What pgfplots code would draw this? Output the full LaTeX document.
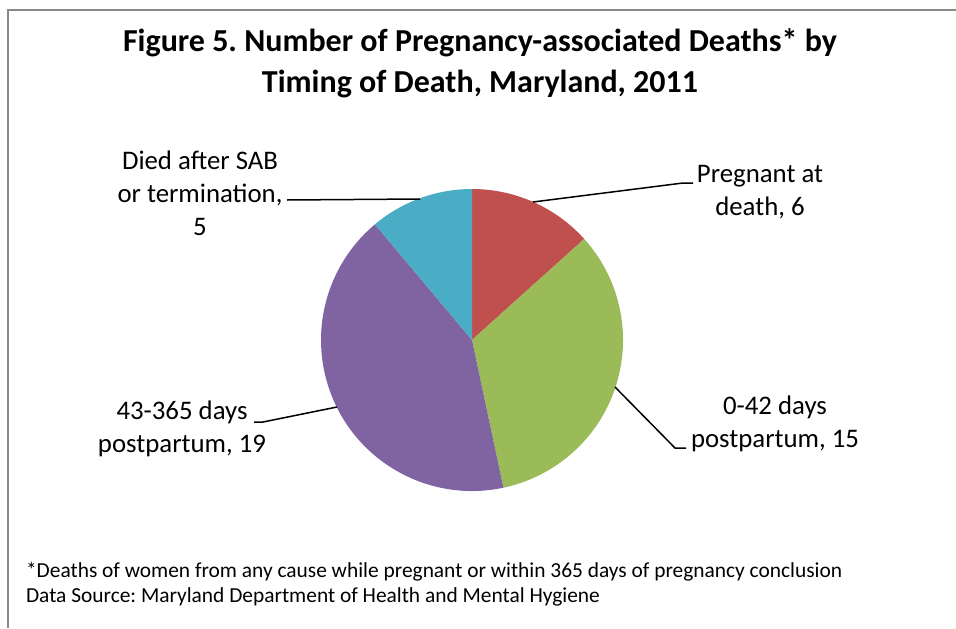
\documentclass[border=0pt]{standalone}
\usepackage{pgfplots}
\pgfplotsset{compat=1.18}
\usepackage{fontspec}
\setmainfont{Carlito}
\frenchspacing
\definecolor{cRed}{HTML}{C0504D}
\definecolor{cGreen}{HTML}{9BBB59}
\definecolor{cPurple}{HTML}{8064A2}
\definecolor{cBlue}{HTML}{4BACC6}
\definecolor{frameGray}{HTML}{898989}
% data: Pregnant at death, 0-42 days, 43-365 days, Died after SAB/termination
\def\vA{6}
\def\vB{15}
\def\vC{19}
\def\vD{5}
\begin{document}
\begin{tikzpicture}
\pgfmathsetmacro\tot{\vA+\vB+\vC+\vD}
\pgfmathsetmacro\aA{90}
\pgfmathsetmacro\aB{\aA-360*\vA/\tot}
\pgfmathsetmacro\aC{\aB-360*\vB/\tot}
\pgfmathsetmacro\aD{\aC-360*\vC/\tot}
\pgfmathsetmacro\aE{\aD-360*\vD/\tot}
\begin{axis}[
  x=0.5pt, y=0.5pt,
  xmin=0, xmax=956, ymin=0, ymax=628,
  hide axis, clip=false,
  anchor=origin, at={(0,0)},
]
% frame (cropped on right and bottom)
\draw[frameGray, line width=0.75pt] (axis cs:8,0) -- (axis cs:8,618) -- (axis cs:956,618);
% slices
\fill[cRed] (axis cs:472,288) -- (axis cs:{472+151*cos(\aA)},{288+151*sin(\aA)}) arc[start angle=\aA, end angle=\aB, radius=75.5pt] -- cycle;
\fill[cGreen] (axis cs:472,288) -- (axis cs:{472+151*cos(\aB)},{288+151*sin(\aB)}) arc[start angle=\aB, end angle=\aC, radius=75.5pt] -- cycle;
\fill[cPurple] (axis cs:472,288) -- (axis cs:{472+151*cos(\aC)},{288+151*sin(\aC)}) arc[start angle=\aC, end angle=\aD, radius=75.5pt] -- cycle;
\fill[cBlue] (axis cs:472,288) -- (axis cs:{472+151*cos(\aD)},{288+151*sin(\aD)}) arc[start angle=\aD, end angle=\aE, radius=75.5pt] -- cycle;
% leader lines
\draw[black, line width=0.75pt] (axis cs:533,426) -- (axis cs:683,445) -- (axis cs:693,445);
\draw[black, line width=0.75pt] (axis cs:615,241) -- (axis cs:675,180) -- (axis cs:686,180);
\draw[black, line width=0.75pt] (axis cs:337,221) -- (axis cs:263,206) -- (axis cs:254,206);
\draw[black, line width=0.75pt] (axis cs:420,429) -- (axis cs:287,428);
% labels
\node[align=center, font=\fontsize{13.4}{16.5}\selectfont] at (axis cs:760,436) {Pregnant at\\death, 6};
\node[align=center, font=\fontsize{13.4}{16.5}\selectfont] at (axis cs:775,204) {0-42 days\\postpartum, 15};
\node[align=center, font=\fontsize{13.4}{16.5}\selectfont] at (axis cs:182,199) {43-365 days\\postpartum, 19};
\node[align=center, font=\fontsize{13.4}{16.5}\selectfont] at (axis cs:200,435) {Died after SAB\\or termination,\\5};
% title
\node[align=center, font=\fontsize{16}{20.5}\selectfont\bfseries] at (axis cs:480,565) {Figure 5. Number of Pregnancy-associated Deaths* by\\Timing of Death, Maryland, 2011};
% footnote
\node[align=left, anchor=west, font=\fontsize{10.7}{12.5}\selectfont] at (axis cs:19,44) {*Deaths of women from any cause while pregnant or within 365 days of pregnancy conclusion\\Data Source: Maryland Department of Health and Mental Hygiene};
\end{axis}
\pgfresetboundingbox
\useasboundingbox (0,0) rectangle (478pt,314pt);
\end{tikzpicture}
\end{document}
